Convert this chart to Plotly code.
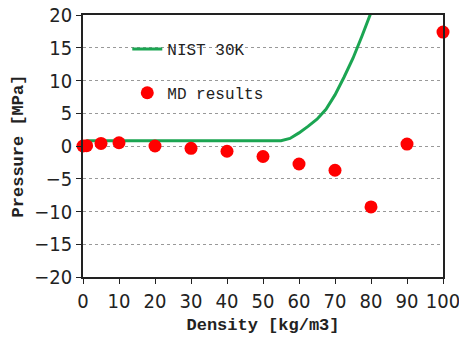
import plotly.graph_objects as go

# MD results
md_density = [0, 1, 5, 10, 20, 30, 40, 50, 60, 70, 80, 90, 100]
md_pressure = [0.0, 0.05, 0.4, 0.5, 0.0, -0.35, -0.8, -1.6, -2.75, -3.7, -9.3, 0.3, 17.4]

# NIST 30K curve
nist_density = [1, 10, 20, 30, 40, 50, 55, 57.5, 60, 62.5, 65, 67.5, 70, 72.5, 75, 77.5, 80, 81]
nist_pressure = [0.8, 0.8, 0.8, 0.8, 0.8, 0.8, 0.82, 1.15, 2.0, 3.0, 4.1, 5.6, 7.8, 10.5, 13.4, 16.8, 20.4, 21.8]

x_ticks = [0, 10, 20, 30, 40, 50, 60, 70, 80, 90, 100]
y_ticks = [-20, -15, -10, -5, 0, 5, 10, 15, 20]

mono = "Liberation Mono"
narrow = "Liberation Sans Narrow, DejaVu Sans Condensed, sans-serif"

fig = go.Figure()
fig.add_trace(go.Scatter(
    x=nist_density, y=nist_pressure, mode="lines", name="NIST 30K",
    line=dict(color="#1BA552", width=3), legendgroup="a"))
fig.add_trace(go.Scatter(
    x=md_density, y=md_pressure, mode="markers", name="MD results",
    marker=dict(color="#FF0000", size=13), legendgroup="b", cliponaxis=False))

fig.update_layout(
    width=459, height=342,
    margin=dict(l=83, r=16, t=15, b=65, autoexpand=False),
    paper_bgcolor="white", plot_bgcolor="white",
    showlegend=True,
    legend=dict(x=0.123, y=0.935, xanchor="left", yanchor="top",
                bgcolor="rgba(0,0,0,0)", traceorder="grouped", tracegroupgap=20,
                font=dict(family=mono, size=16, color="#222")),
    xaxis=dict(range=[0, 100], tickvals=x_ticks, ticks="outside", ticklen=5,
               tickcolor="#222", showline=True, linecolor="#222", linewidth=1.5,
               mirror=True, showgrid=False, zeroline=False, automargin=False,
               ticklabeloverflow="allow",
               tickfont=dict(family=narrow, size=20, color="#222"),
               title=dict(text="<b>Density [kg/m3]</b>", standoff=6,
                          font=dict(family=mono, size=17, color="#222"))),
    yaxis=dict(range=[-20, 20], tickvals=y_ticks, ticks="outside", ticklen=5,
               tickcolor="#222", showline=True, linecolor="#222", linewidth=1.5,
               mirror=True, showgrid=True, gridcolor="#999", griddash="3px,3px",
               gridwidth=1, zeroline=False, automargin=False,
               ticklabeloverflow="allow",
               tickfont=dict(family=narrow, size=20, color="#222"),
               title=dict(text="<b>Pressure [MPa]</b>", standoff=6,
                          font=dict(family=mono, size=17, color="#222"))),
)

fig.write_html("out.html")
